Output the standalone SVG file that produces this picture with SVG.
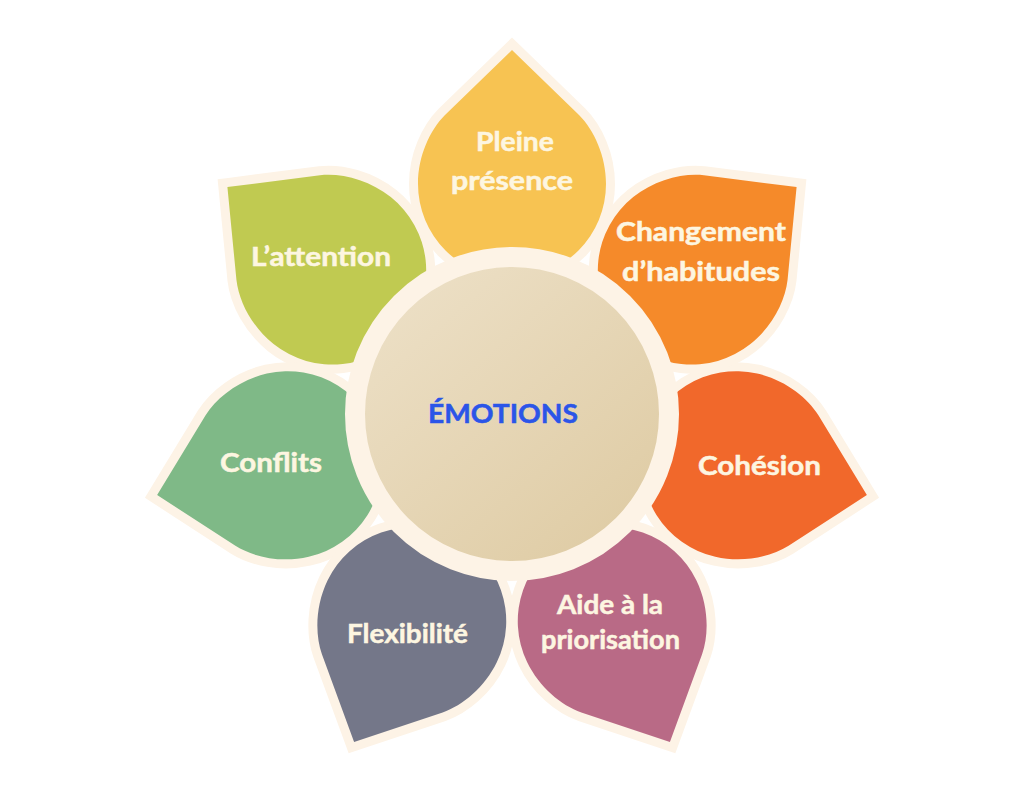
<svg xmlns="http://www.w3.org/2000/svg" width="1024" height="792" viewBox="0 0 1024 792">
<style>
.p{stroke:#fdf3e6;stroke-width:18;stroke-linejoin:miter;stroke-miterlimit:6;paint-order:stroke}
.t{font-family:"Lato","Liberation Sans",sans-serif;font-weight:700;font-size:26px;fill:#fdf6e1;stroke:#fdf6e1;stroke-width:0.5}
</style>
<defs>
<path id="petal" d="M0,-364 L67,-299 C82,-284 94,-258 94,-230 A94,94 0 1 1 -94,-230 C-94,-258 -82,-284 -67,-299 Z"/>
<linearGradient id="g" x1="0.15" y1="0.1" x2="0.85" y2="0.9">
<stop offset="0" stop-color="#ecdfc5"/>
<stop offset="1" stop-color="#dfcca5"/>
</linearGradient>
</defs>
<rect width="1024" height="792" fill="#ffffff"/>
<g id="connectors"/>
<g id="petal-attention"><use href="#petal" class="p" fill="#c0ca51" transform="translate(512 414) rotate(-51.43)"/></g>
<g id="petal-conflits"><use href="#petal" class="p" fill="#7fb987" transform="translate(512 414) rotate(-102.86)"/></g>
<g id="petal-flexibilite"><use href="#petal" class="p" fill="#747789" transform="translate(512 414) rotate(-154.29)"/></g>
<g id="petal-aide"><use href="#petal" class="p" fill="#b96a86" transform="translate(512 414) rotate(154.29)"/></g>
<g id="petal-cohesion"><use href="#petal" class="p" fill="#f1682b" transform="translate(512 414) rotate(102.86)"/></g>
<g id="petal-changement"><use href="#petal" class="p" fill="#f58a2a" transform="translate(512 414) rotate(51.43)"/></g>
<g id="petal-pleine"><use href="#petal" class="p" fill="#f7c352" transform="translate(512 414)"/></g>
<g id="center"><circle cx="512" cy="414" r="157" fill="url(#g)" stroke="#fdf3e6" stroke-width="20"/>
<text x="428" y="423" textLength="150" lengthAdjust="spacingAndGlyphs" style="font-family:Lato,'Liberation Sans',sans-serif;font-weight:700;font-size:27px;fill:#2b55e8;stroke:#2b55e8;stroke-width:0.5">ÉMOTIONS</text></g>
<g id="labels">
<text class="t" x="476" y="151" textLength="78" lengthAdjust="spacingAndGlyphs">Pleine</text>
<text class="t" x="451" y="190" textLength="122" lengthAdjust="spacingAndGlyphs">présence</text>
<text class="t" x="616" y="241" textLength="170" lengthAdjust="spacingAndGlyphs">Changement</text>
<text class="t" x="622" y="281" textLength="158" lengthAdjust="spacingAndGlyphs">d’habitudes</text>
<text class="t" x="251" y="266" textLength="140" lengthAdjust="spacingAndGlyphs">L’attention</text>
<text class="t" x="220" y="472" textLength="102" lengthAdjust="spacingAndGlyphs">Conflits</text>
<text class="t" x="698" y="475" textLength="123" lengthAdjust="spacingAndGlyphs">Cohésion</text>
<text class="t" x="347" y="643" textLength="121" lengthAdjust="spacingAndGlyphs">Flexibilité</text>
<text class="t" x="557" y="614" textLength="106" lengthAdjust="spacingAndGlyphs">Aide à la</text>
<text class="t" x="541" y="649" textLength="139" lengthAdjust="spacingAndGlyphs">priorisation</text>
</g>
</svg>
